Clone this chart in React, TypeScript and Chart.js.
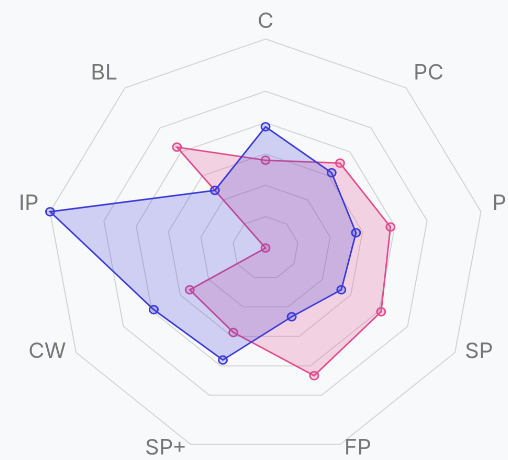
import React, { useEffect, useRef } from 'react';
import { Chart, registerables } from 'chart.js';

Chart.register(...registerables);

// ---- data ----
const axisLabels = ['C', 'PC', 'P', 'SP', 'FP', 'SP+', 'CW', 'IP', 'BL'];
const blueValues = [58, 47, 42, 40, 35, 57, 59, 100, 36];
const pinkValues = [42, 53, 58, 61, 65, 43, 40, 0, 63];
const ringTicks = [0, 15, 30, 45, 60, 75, 100];
const scaleMin = 0;
const scaleMax = 100;

// ---- styles ----
const BG = '#f8f9fa';
const BLUE = '#3a3ad6';
const BLUE_FILL = 'rgba(58, 58, 214, 0.22)';
const PINK = '#e04b8b';
const PINK_FILL = 'rgba(224, 75, 139, 0.22)';
const W0 = 492;
const H0 = 452;
const STRETCH_X = 1.047;

const outerLabelPlugin = {
  id: 'outerLabels',
  afterDatasetsDraw(chart: any) {
    const scale = chart.scales.r;
    const ctx = chart.ctx;
    const labels: string[] = chart.data.labels;
    const n = labels.length;
    ctx.save();
    ctx.font = '21px Inter, "Noto Sans", sans-serif';
    ctx.fillStyle = '#767676';
    ctx.textBaseline = 'alphabetic';
    labels.forEach((lab, i) => {
      const p = scale.getPointPosition(i, scale.drawingArea + 11);
      const deg = ((360 * i) / n) % 360;
      ctx.textAlign = deg === 0 || deg === 180 ? 'center' : deg < 180 ? 'left' : 'right';
      ctx.fillText(lab, p.x, p.y);
    });
    ctx.restore();
  },
};

export default function App() {
  const ref = useRef<HTMLCanvasElement | null>(null);

  useEffect(() => {
    document.documentElement.style.background = BG;
    document.documentElement.style.overflow = 'hidden';
    document.body.style.background = BG;
    const canvas = ref.current;
    if (!canvas) return;
    const chart = new Chart(canvas, {
      type: 'radar',
      data: {
        labels: axisLabels,
        datasets: [
          {
            label: 'Blue',
            data: blueValues,
            borderColor: BLUE,
            backgroundColor: BLUE_FILL,
            pointBorderColor: BLUE,
            pointBackgroundColor: BLUE_FILL,
            borderWidth: 1.5,
            pointRadius: 4,
            pointBorderWidth: 1.5,
            fill: true,
          },
          {
            label: 'Pink',
            data: pinkValues,
            borderColor: PINK,
            backgroundColor: PINK_FILL,
            pointBorderColor: PINK,
            pointBackgroundColor: PINK_FILL,
            borderWidth: 1.5,
            pointRadius: 4,
            pointBorderWidth: 1.5,
            fill: true,
          },
        ],
      },
      options: {
        responsive: false,
        devicePixelRatio: 2,
        animation: false,
        layout: { padding: { left: 37, right: 37, top: 31, bottom: 3 } },
        plugins: {
          legend: { display: false },
          tooltip: { enabled: false },
        },
        scales: {
          r: {
            min: scaleMin,
            max: scaleMax,
            afterBuildTicks: (s: any) => {
              s.ticks = ringTicks.map((v) => ({ value: v }));
            },
            ticks: { display: false },
            grid: { color: '#d2d2d4', lineWidth: 1 },
            angleLines: { display: false },
            pointLabels: { display: false },
          },
        },
      },
      plugins: [outerLabelPlugin],
    } as any);
    return () => chart.destroy();
  }, []);

  return (
    <div
      style={{
        position: 'fixed',
        left: 0,
        top: 0,
        width: 508,
        height: 460,
        overflow: 'hidden',
        background: BG,
      }}
    >
      <canvas
        ref={ref}
        width={W0}
        height={H0}
        style={{
          position: 'absolute',
          left: 8,
          top: 8,
          width: `${W0 * STRETCH_X}px`,
          height: `${H0}px`,
        }}
      />
    </div>
  );
}
